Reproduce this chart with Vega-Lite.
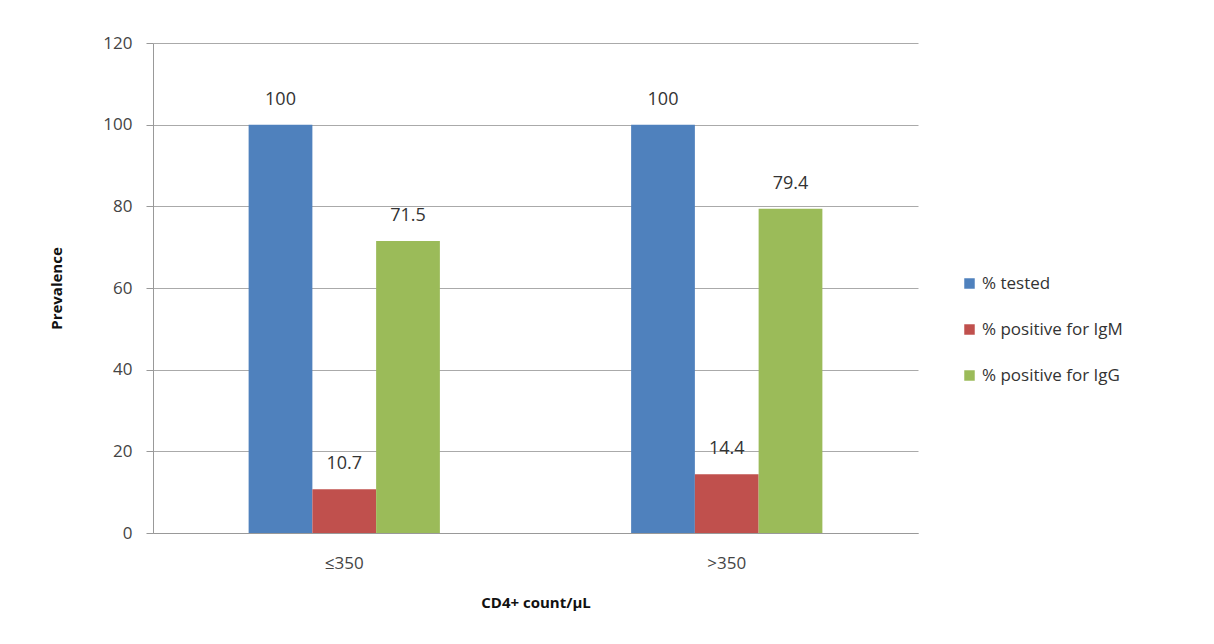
{
  "$schema": "https://vega.github.io/schema/vega-lite/v6.json",
  "autosize": "none",
  "width": 765,
  "height": 490,
  "padding": {"left": 153, "top": 43, "right": 296, "bottom": 111},
  "background": "white",
  "data": {
    "values": [
      {"group": "≤350", "series": "% tested", "value": 100},
      {"group": "≤350", "series": "% positive for IgM", "value": 10.7},
      {"group": "≤350", "series": "% positive for IgG", "value": 71.5},
      {"group": ">350", "series": "% tested", "value": 100},
      {"group": ">350", "series": "% positive for IgM", "value": 14.4},
      {"group": ">350", "series": "% positive for IgG", "value": 79.4}
    ]
  },
  "config": {
    "font": "Open Sans",
    "view": {"stroke": null}
  },
  "encoding": {
    "x": {
      "field": "group", "type": "nominal", "sort": ["≤350", ">350"],
      "scale": {"paddingInner": 0.5, "paddingOuter": 0.25},
      "axis": {"title": "CD4+ count/µL", "labelAngle": 0, "labelFontSize": 17, "labelColor": "#444", "labelPadding": 22,
               "titleFontSize": 15, "titleFontWeight": "bold", "titleColor": "#111", "titlePadding": 24,
               "domainColor": "#999", "ticks": false}
    },
    "xOffset": {"field": "series", "sort": ["% tested", "% positive for IgM", "% positive for IgG"]},
    "y": {
      "field": "value", "type": "quantitative",
      "scale": {"domain": [0, 120]},
      "axis": {"title": "Prevalence", "values": [0, 20, 40, 60, 80, 100, 120], "labelFontSize": 17, "labelColor": "#444",
               "labelPadding": 14, "tickColor": "#999", "tickSize": 7, "gridColor": "#aaa", "domainColor": "#999",
               "titleFontSize": 15, "titleFontWeight": "bold", "titleColor": "#111", "titlePadding": 38}
    }
  },
  "layer": [
    {
      "mark": {"type": "bar"},
      "encoding": {
        "color": {
          "field": "series", "type": "nominal",
          "sort": ["% tested", "% positive for IgM", "% positive for IgG"],
          "scale": {"domain": ["% tested", "% positive for IgM", "% positive for IgG"], "range": ["#4F81BD", "#C0504D", "#9BBB59"]},
          "legend": {"title": null, "orient": "none", "legendX": 808, "legendY": 232, "symbolType": "square", "symbolSize": 110,
                     "labelFontSize": 17, "labelColor": "#333", "rowPadding": 28, "symbolStrokeWidth": 0, "labelOffset": 4}
        }
      }
    },
    {
      "mark": {"type": "text", "dy": -25, "fontSize": 18, "color": "#333"},
      "encoding": {"text": {"field": "value", "type": "quantitative"}}
    }
  ]
}
